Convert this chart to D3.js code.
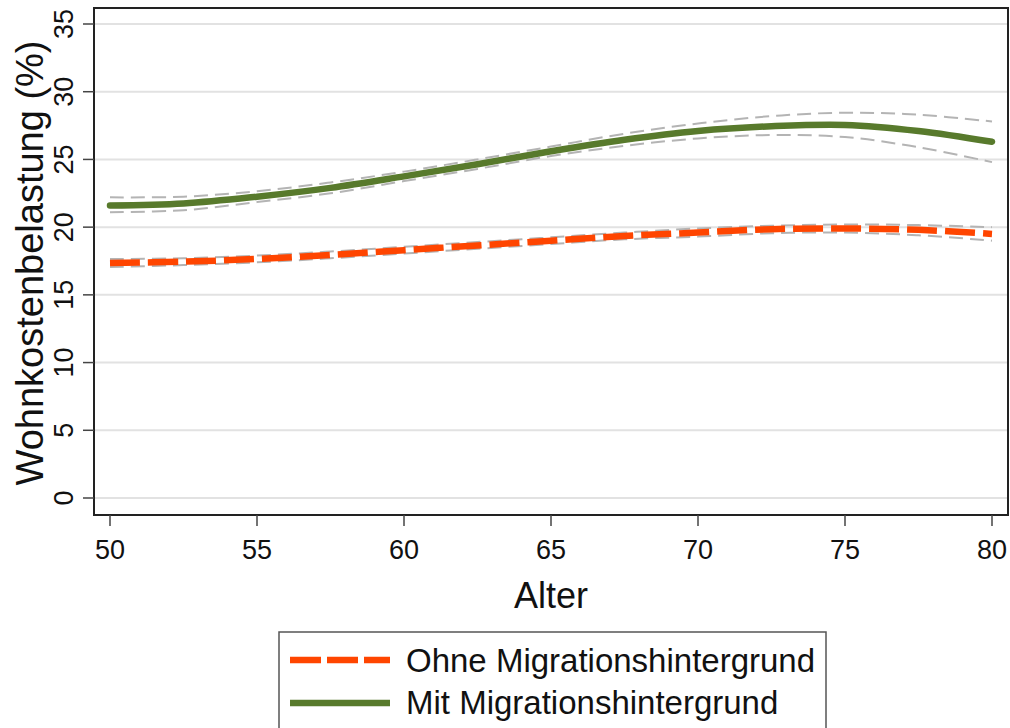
<!DOCTYPE html>
<html>
<head>
<meta charset="utf-8">
<script src="https://cdn.jsdelivr.net/npm/d3@7/dist/d3.min.js"></script>
<style>
  html, body { margin: 0; padding: 0; background: #fff; }
  svg { display: block; font-family: "Liberation Sans", Arial, sans-serif; }
</style>
</head>
<body>
<svg id="chart" width="1010" height="728"></svg>
<script>
// Age grid (years)
const ages = [50, 52.5, 55, 57.5, 60, 62.5, 65, 67.5, 70, 72.5, 75, 77.5, 80];

// Housing cost burden (%) – with migration background
const mitFit   = [21.6, 21.75, 22.25, 22.9, 23.75, 24.65, 25.6, 26.45, 27.1, 27.45, 27.55, 27.1, 26.3];
const mitUpper = [22.2, 22.25, 22.65, 23.3, 24.1, 25.0, 25.95, 26.9, 27.65, 28.2, 28.45, 28.3, 27.8];
const mitLower = [21.1, 21.25, 21.85, 22.5, 23.4, 24.3, 25.25, 26.0, 26.55, 26.8, 26.65, 25.9, 24.8];

// Housing cost burden (%) – without migration background
const ohneFit   = [17.35, 17.45, 17.65, 17.95, 18.3, 18.65, 19.0, 19.35, 19.6, 19.85, 19.9, 19.8, 19.5];
const ohneUpper = [17.65, 17.7, 17.9, 18.2, 18.55, 18.9, 19.25, 19.6, 19.9, 20.1, 20.2, 20.15, 20.0];
const ohneLower = [17.05, 17.2, 17.4, 17.7, 18.05, 18.4, 18.75, 19.1, 19.3, 19.55, 19.6, 19.4, 19.0];

const xTicks = [50, 55, 60, 65, 70, 75, 80];
const yTicks = [0, 5, 10, 15, 20, 25, 30, 35];

const legendLabels = ["Ohne Migrationshintergrund", "Mit Migrationshintergrund"];
const xTitle = "Alter";
const yTitle = "Wohnkostenbelastung (%)";

const colOhne = "#ff4500";
const colMit = "#587a2c";
const colCI = "#b4b4b4";

const svg = d3.select("#chart");

const frame = { left: 94, right: 1008, top: 8, bottom: 515 };
const x = d3.scaleLinear().domain([50, 80]).range([110, 992]);
const y = d3.scaleLinear().domain([0, 35]).range([498, 24]);

// Horizontal grid
svg.append("g").selectAll("line").data(yTicks).join("line")
  .attr("x1", frame.left + 1).attr("x2", frame.right - 1)
  .attr("y1", d => y(d)).attr("y2", d => y(d))
  .attr("stroke", "#e2e2e2").attr("stroke-width", 2);

// Smooth line through the fitted values
const lineFor = vals => d3.line()
  .x((d, i) => x(ages[i]))
  .y(d => y(d))
  .curve(d3.curveCatmullRom.alpha(0.5))(vals);

// Confidence bands (dashed gray)
[mitUpper, mitLower, ohneUpper, ohneLower].forEach(v => {
  svg.append("path").attr("d", lineFor(v))
    .attr("fill", "none").attr("stroke", colCI)
    .attr("stroke-width", 2).attr("stroke-dasharray", "14,7");
});

// Fitted lines
svg.append("path").attr("d", lineFor(mitFit))
  .attr("fill", "none").attr("stroke", colMit)
  .attr("stroke-width", 6.5).attr("stroke-linecap", "round");

svg.append("path").attr("d", lineFor(ohneFit))
  .attr("fill", "none").attr("stroke", colOhne)
  .attr("stroke-width", 6.5).attr("stroke-dasharray", "30,8");

// Plot frame
svg.append("rect")
  .attr("x", frame.left).attr("y", frame.top)
  .attr("width", frame.right - frame.left).attr("height", frame.bottom - frame.top)
  .attr("fill", "none").attr("stroke", "#222").attr("stroke-width", 2);

// Y axis
const yAxis = svg.append("g");
yAxis.selectAll("line").data(yTicks).join("line")
  .attr("x1", 83).attr("x2", frame.left)
  .attr("y1", d => y(d)).attr("y2", d => y(d))
  .attr("stroke", "#444").attr("stroke-width", 1.5);
yAxis.selectAll("text").data(yTicks).join("text")
  .attr("transform", d => `translate(73,${y(d)}) rotate(-90)`)
  .attr("text-anchor", "middle")
  .attr("font-size", 27).attr("fill", "#111")
  .text(d => d);

// X axis
const xAxis = svg.append("g");
xAxis.selectAll("line").data(xTicks).join("line")
  .attr("x1", d => x(d)).attr("x2", d => x(d))
  .attr("y1", frame.bottom).attr("y2", 526)
  .attr("stroke", "#444").attr("stroke-width", 1.5);
xAxis.selectAll("text").data(xTicks).join("text")
  .attr("x", d => x(d)).attr("y", 559)
  .attr("text-anchor", "middle")
  .attr("font-size", 27).attr("fill", "#111")
  .text(d => d);

// Axis titles
svg.append("text")
  .attr("x", 551).attr("y", 608)
  .attr("text-anchor", "middle")
  .attr("font-size", 36).attr("fill", "#111")
  .text(xTitle);

svg.append("text")
  .attr("transform", "translate(43,263) rotate(-90)")
  .attr("text-anchor", "middle")
  .attr("font-size", 38).attr("fill", "#111")
  .text(yTitle);

// Legend
const lg = svg.append("g");
lg.append("rect")
  .attr("x", 279).attr("y", 632).attr("width", 547).attr("height", 120)
  .attr("fill", "#fff").attr("stroke", "#555").attr("stroke-width", 1.5);

const legendItems = [
  { label: legendLabels[0], color: colOhne, dash: "31,6", ly: 660, ty: 672 },
  { label: legendLabels[1], color: colMit, dash: null, ly: 703, ty: 714 }
];
legendItems.forEach(it => {
  const ln = lg.append("line")
    .attr("x1", 290).attr("x2", 390)
    .attr("y1", it.ly).attr("y2", it.ly)
    .attr("stroke", it.color).attr("stroke-width", 6.5);
  if (it.dash) ln.attr("stroke-dasharray", it.dash);
  lg.append("text")
    .attr("x", 406).attr("y", it.ty)
    .attr("font-size", 33).attr("fill", "#111")
    .text(it.label);
});
</script>
</body>
</html>
